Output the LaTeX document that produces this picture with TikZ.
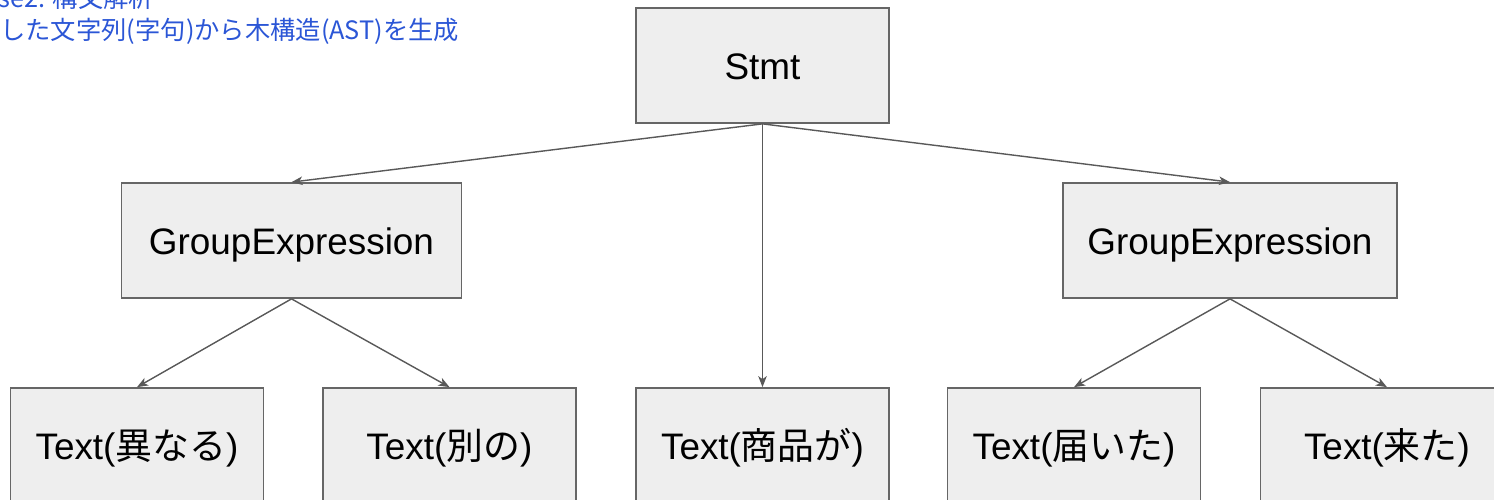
\documentclass[tikz,border=0pt]{standalone}
\usepackage{fontspec}
\setmainfont{Liberation Sans}
\newfontfamily\jp{Noto Sans CJK JP}
\usetikzlibrary{arrows.meta}

\definecolor{boxfill}{HTML}{EEEEEE}
\definecolor{boxline}{HTML}{666666}
\definecolor{arrowline}{HTML}{595959}
\definecolor{titleblue}{HTML}{2B56D6}

\tikzset{
  astbox/.style={rectangle, draw=boxline, fill=boxfill, line width=1pt,
    minimum height=2.3cm, inner sep=0pt, text height=16.5pt, text depth=0pt,
    font=\fontsize{21}{25}\selectfont},
  edge/.style={draw=arrowline, line width=0.8pt,
    -{Stealth[length=0.22cm, width=0.17cm, inset=0.06cm]}},
  title/.style={anchor=base west, inner sep=0pt, text=titleblue,
    font=\jp\fontsize{14.4}{17}\selectfont}
}

\begin{document}
\begin{tikzpicture}[x=0.02cm, y=-0.02cm]
        \useasboundingbox (0,0) rectangle (1494,500);

        % Le titre
        \node (title1) [title] at (-2,8) {se2: 構文解析};
        \node (title2) [title] at (0,40) {した文字列(字句)から木構造(AST)を生成};

        % Les noeuds
        \node (stmt) [astbox, minimum width=5.06cm] at (762.5,65.5) {Stmt};
        \node (geL) [astbox, minimum width=6.8cm] at (291.5,240.5) {GroupExpression};
        \node (geR) [astbox, minimum width=6.68cm] at (1230,240.5) {GroupExpression};
        \node (t1) [astbox, minimum width=5.06cm] at (137,445.5) {Text({\jp 異なる})};
        \node (t2) [astbox, minimum width=5.06cm] at (449.5,445.5) {Text({\jp 別の})};
        \node (t3) [astbox, minimum width=5.06cm] at (762.5,445.5) {Text({\jp 商品が})};
        \node (t4) [astbox, minimum width=5.06cm] at (1074,445.5) {Text({\jp 届いた})};
        \node (t5) [astbox, minimum width=5.06cm] at (1387,445.5) {Text({\jp 来た})};

        % Les arêtes
        \draw [edge] (stmt.south) -- (geL.north);
        \draw [edge] (stmt.south) -- (t3.north);
        \draw [edge] (stmt.south) -- (geR.north);
        \draw [edge] (geL.south) -- (t1.north);
        \draw [edge] (geL.south) -- (t2.north);
        \draw [edge] (geR.south) -- (t4.north);
        \draw [edge] (geR.south) -- (t5.north);
    \end{tikzpicture}
\end{document}
